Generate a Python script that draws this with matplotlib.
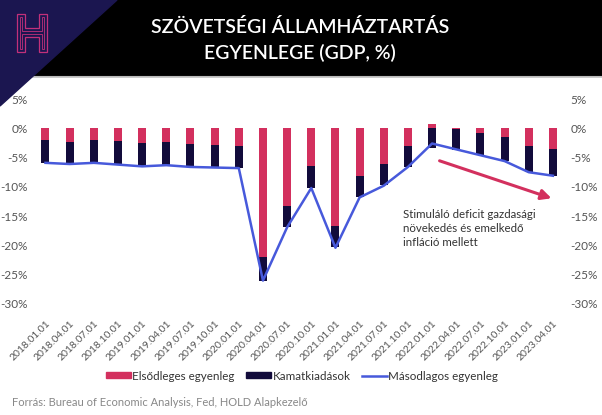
import numpy as np
import matplotlib
matplotlib.use("Agg")
import matplotlib.pyplot as plt
from matplotlib.patches import Polygon, Patch
from matplotlib.lines import Line2D

plt.rcParams['font.family'] = ['Lato', 'DejaVu Sans']

# Adatok (GDP %)
dates = ["2018.01.01", "2018.04.01", "2018.07.01", "2018.10.01", "2019.01.01", "2019.04.01",
         "2019.07.01", "2019.10.01", "2020.01.01", "2020.04.01", "2020.07.01", "2020.10.01",
         "2021.01.01", "2021.04.01", "2021.07.01", "2021.10.01", "2022.01.01", "2022.04.01",
         "2022.07.01", "2022.10.01", "2023.01.01", "2023.04.01"]
primary = [-2.0, -2.3, -2.0, -2.2, -2.5, -2.3, -2.6, -2.9, -3.0, -21.9, -13.3, -6.5,
           -16.6, -8.1, -6.1, -3.1, 0.8, -0.05, -0.8, -1.5, -3.1, -3.6]
interest = [-3.9, -3.7, -3.8, -3.9, -4.0, -4.0, -4.0, -3.8, -3.8, -4.1, -3.6, -3.7,
            -3.7, -3.7, -3.6, -3.5, -3.4, -3.6, -3.8, -4.1, -4.3, -4.5]
secondary = [-5.9, -6.1, -5.9, -6.2, -6.5, -6.3, -6.6, -6.7, -6.8, -26.0, -16.9, -10.2,
             -20.4, -11.8, -9.8, -6.6, -2.6, -3.6, -4.6, -5.6, -7.5, -8.1]
yticks = [5, 0, -5, -10, -15, -20, -25, -30]

pink = "#D3305E"
navy = "#120B3B"
blue = "#4759DB"
gray = "#555555"

fig = plt.figure(figsize=(6.02, 4.15), dpi=100)

# fejléc
bg = fig.add_axes([0, 0, 1, 1])
bg.set_xlim(0, 602)
bg.set_ylim(415, 0)
bg.axis("off")
bg.add_patch(plt.Rectangle((0, 0), 602, 76, color="black", zorder=1))
bg.plot([0, 602], [76.5, 76.5], color="#bbbbbb", lw=0.8, zorder=1)
bg.add_patch(Polygon([[0, 0], [117, 0], [0, 106]], closed=True, color="#1B1650", zorder=2))
h_shape = [[17, 14], [25, 14], [25, 28], [39, 28], [39, 14], [47, 14], [47, 52],
           [39, 52], [39, 37], [25, 37], [25, 52], [17, 52]]
bg.add_patch(Polygon(h_shape, closed=True, fill=False, ec="#C2307A", lw=0.9, zorder=3))
h_inner = [[20, 17], [22, 17], [22, 31], [42, 31], [42, 17], [44, 17], [44, 49],
           [42, 49], [42, 34], [22, 34], [22, 49], [20, 49]]
bg.add_patch(Polygon(h_inner, closed=True, fill=False, ec="#C2307A", lw=0.6, zorder=3))
bg.text(300, 27, "SZÖVETSÉGI ÁLLAMHÁZTARTÁS", color="white", fontsize=14,
        ha="center", va="center", fontweight="semibold")
bg.text(300, 53, "EGYENLEGE (GDP, %)", color="white", fontsize=14,
        ha="center", va="center", fontweight="semibold")

ax = fig.add_axes([33.4 / 602, 1 - 304 / 415, (565 - 33.4) / 602, (304 - 99) / 415])
ax.patch.set_alpha(0)
x = np.arange(len(dates))
ax.bar(x, primary, width=0.33, color=pink, zorder=2)
ax.bar(x, interest, width=0.33, bottom=np.minimum(primary, 0), color=navy, zorder=2)
ax.plot(x, secondary, color=blue, lw=1.8, zorder=3)

ax.set_xlim(-0.5, len(dates) - 0.5)
ax.set_ylim(-30, 5)
ax.set_yticks(yticks)
ax.set_yticklabels([f"{v}%" for v in yticks])
ax.set_xticks(x)
ax.set_xticklabels(dates, rotation=45, ha="right", rotation_mode="anchor")
ax.tick_params(axis="y", length=0, labelsize=8.5, labelcolor=gray, pad=4,
               labelleft=True, labelright=True)
ax.tick_params(axis="x", length=0, labelsize=7.5, labelcolor=gray, pad=11)
for s in ax.spines.values():
    s.set_visible(False)

ax.annotate("", xy=(21.05, -12.1), xytext=(16.2, -5.4),
            arrowprops=dict(arrowstyle="-|>,head_length=0.6,head_width=0.3",
                            color=pink, lw=2.2), annotation_clip=False)
ax.text(14.8, -13.8, "Stimuláló deficit gazdasági\nnövekedés és emelkedő\ninfláció mellett",
        fontsize=8.3, color="#333333", va="top", ha="left", linespacing=1.3)

handles = [Patch(color=pink), Patch(color=navy), Line2D([], [], color=blue, lw=1.8)]
fig.legend(handles, ["Elsődleges egyenleg", "Kamatkiadások", "Másodlagos egyenleg"],
           loc="center", bbox_to_anchor=(302 / 602, 1 - 376 / 415), ncol=3, frameon=False,
           fontsize=8.4, labelcolor="#333333", handlelength=2.15, handleheight=0.43,
           handletextpad=0.1, columnspacing=1.0)

fig.text(12 / 602, 1 - 402 / 415, "Forrás: Bureau of Economic Analysis, Fed, HOLD Alapkezelő",
         fontsize=8, color="#888888", va="center", ha="left")

fig.savefig("out.png", dpi=100)
